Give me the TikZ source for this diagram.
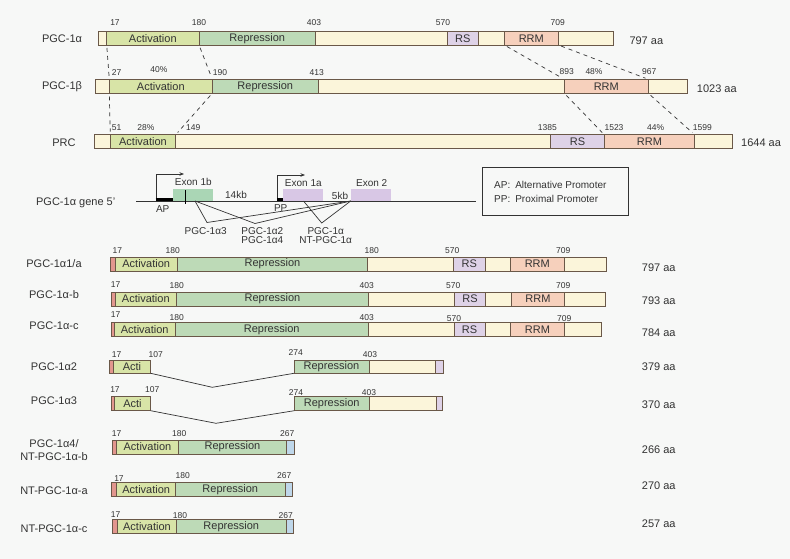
\documentclass[tikz,border=0pt]{standalone}
\usepackage{fontspec}
\setmainfont{Liberation Sans}
\usetikzlibrary{arrows.meta}
\definecolor{bgc}{HTML}{F7F8F7}
\definecolor{bd}{HTML}{6A5848}
\definecolor{ylw}{HTML}{FBF5DA}
\definecolor{act}{HTML}{D8E4A7}
\definecolor{rep}{HTML}{BDDAB7}
\definecolor{rsc}{HTML}{DED2E7}
\definecolor{rrm}{HTML}{F6D0BC}
\definecolor{redc}{HTML}{E2968E}
\definecolor{bluc}{HTML}{BFD7EA}
\definecolor{exg}{HTML}{AAD6B5}
\definecolor{exl}{HTML}{D8C7E5}
\definecolor{txt}{HTML}{333333}
\newcommand\seg[5]{\filldraw[fill=#5,draw=bd,line width=0.7pt] (#1,#3) rectangle (#2,#4);}
\tikzset{
 lbl/.style={text=txt,font=\fontsize{11}{13}\selectfont,inner sep=0pt},
 dom/.style={text=txt,font=\fontsize{11}{13}\selectfont,inner sep=0pt},
 num/.style={text=txt,font=\fontsize{8.5}{10}\selectfont,inner sep=0pt},
 sml/.style={text=txt,font=\fontsize{10}{12}\selectfont,inner sep=0pt},
 dsh/.style={draw=txt,line width=0.7pt,dash pattern=on 4pt off 4pt,shorten <=3pt,shorten >=3pt},
 spl/.style={draw=txt,line width=0.7pt},
}
\begin{document}
\begin{tikzpicture}[x=1pt,y=-1pt]
\fill[bgc] (0,0) rectangle (790,559);
\useasboundingbox (0,0) rectangle (790,559);

% ===== PGC-1alpha =====
\seg{98.3}{613.3}{31.7}{45}{ylw}
\seg{106.7}{199}{31.7}{45}{act}
\seg{199}{315.7}{31.7}{45}{rep}
\seg{447.3}{478.3}{31.7}{45}{rsc}
\seg{504.3}{558.3}{31.7}{45}{rrm}
\node[lbl] (la) at (62,39) {PGC-1α};
\node[dom] (aact) at (152.8,38.6) {Activation};
\node[dom] (arep) at (257.3,38.6) {Repression};
\node[dom] (ars) at (462.8,38.6) {RS};
\node[dom] (arrm) at (531.3,38.6) {RRM};
\node[num] (an17) at (115,23) {17};
\node[num] (an180) at (199,23) {180};
\node[num] (an403) at (314,23) {403};
\node[num] (an570) at (443,23) {570};
\node[num] (an709) at (557.7,23) {709};
\node[lbl,anchor=west] (aaa) at (629.3,41) {797 aa};

% ===== PGC-1beta =====
\seg{95.7}{687.3}{79.3}{93.3}{ylw}
\seg{109.3}{212.3}{79.3}{93.3}{act}
\seg{212.3}{318.3}{79.3}{93.3}{rep}
\seg{564.3}{648.3}{79.3}{93.3}{rrm}
\node[lbl] (lb) at (62,87) {PGC-1β};
\node[dom] (bact) at (160.8,86.6) {Activation};
\node[dom] (brep) at (265.3,86.6) {Repression};
\node[dom] (brrm) at (606.3,86.6) {RRM};
\node[num] (bn27) at (116.7,72.5) {27};
\node[num] (bp40) at (159,70) {40\%};
\node[num] (bn190) at (220,72.5) {190};
\node[num] (bn413) at (316.7,72.5) {413};
\node[num] (bn893) at (566.7,72) {893};
\node[num] (bp48) at (594,71.5) {48\%};
\node[num] (bn967) at (649.3,72) {967};
\node[lbl,anchor=west] (baa) at (696.7,89) {1023 aa};

% ===== PRC =====
\seg{94.3}{732.3}{134.7}{148.7}{ylw}
\seg{110.3}{175.7}{134.7}{148.7}{act}
\seg{550.7}{604.3}{134.7}{148.7}{rsc}
\seg{604.3}{694.7}{134.7}{148.7}{rrm}
\node[lbl] (lc) at (64,142.5) {PRC};
\node[dom] (cact) at (143,142) {Activation};
\node[dom] (crs) at (577.5,142) {RS};
\node[dom] (crrm) at (649.5,142) {RRM};
\node[num] (cn51) at (116.7,128) {51};
\node[num] (cp28) at (146,127.5) {28\%};
\node[num] (cn149) at (193.3,128) {149};
\node[num] (cn1385) at (547.3,128) {1385};
\node[num] (cn1523) at (614,128) {1523};
\node[num] (cp44) at (655.7,128) {44\%};
\node[num] (cn1599) at (702.3,128) {1599};
\node[lbl,anchor=west] (caa) at (741,142.5) {1644 aa};

% dashed homology connectors
\coordinate (a1) at (106.7,45); \coordinate (b1t) at (109.3,79.3);
\coordinate (a2) at (199,45); \coordinate (b2t) at (212.3,79.3);
\coordinate (b1b) at (109.3,93.3); \coordinate (c1) at (110.3,134.7);
\coordinate (b2b) at (212.3,93.3); \coordinate (c2) at (175.7,134.7);
\coordinate (a3) at (504.3,45); \coordinate (b3t) at (564.3,79.3);
\coordinate (a4) at (558.3,45); \coordinate (b4t) at (648.3,79.3);
\coordinate (b3b) at (564.3,93.3); \coordinate (c3) at (604.3,134.7);
\coordinate (b4b) at (648.3,93.3); \coordinate (c4) at (694.7,134.7);
\foreach \p/\q in {a1/b1t,a2/b2t,b1b/c1,b2b/c2,a3/b3t,a4/b4t,b3b/c3,b4b/c4}
  \draw[dsh] (\p) -- (\q);

% ===== gene =====
\node[lbl] (gl) at (75.7,203.3) {PGC-1α gene 5'};
\fill[exg] (173.3,188.5) rectangle (213.3,201);
\fill[exl] (282.7,189) rectangle (323.3,201);
\fill[exl] (351,189) rectangle (391,201);
\draw[txt,line width=0.7pt] (136,201) -- (476,201);
\draw[black,line width=2.4pt] (155.7,199.3) -- (172.7,199.3);
\draw[black,line width=2.4pt] (277.3,199.3) -- (282.7,199.3);
\draw[black,line width=0.7pt] (185,190) -- (185,204.3);
\draw[txt,line width=0.7pt,-{Stealth[length=4.5pt,width=3.5pt]}] (156.2,198) -- (156.2,174) -- (184,174);
\draw[txt,line width=0.7pt,-{Stealth[length=4.5pt,width=3.5pt]}] (277.8,198) -- (277.8,175) -- (305,175);
\node[sml] (e1b) at (193.3,181.5) {Exon 1b};
\node[sml] (e1a) at (303.3,183) {Exon 1a};
\node[sml] (e2) at (371.7,183) {Exon 2};
\node[sml] (k14) at (236,195) {14kb};
\node[sml] (k5) at (340,195.5) {5kb};
\node[sml] (ap) at (162.7,209.5) {AP};
\node[sml] (pp) at (280.7,208.5) {PP};
\coordinate (o1b) at (195,201);
\coordinate (o1a) at (303.5,201);
\coordinate (o2) at (350.7,201);
\coordinate (v3) at (207,222.5);
\coordinate (v2) at (255,223.5);
\coordinate (v1) at (321.7,223);
\draw[spl] (o1b) -- (v3) -- (o2);
\draw[spl] (o1b) -- (v2) -- (o2);
\draw[spl] (o1a) -- (v1) -- (o2);
\node[sml] (s3) at (205.7,231.5) {PGC-1α3};
\node[sml] (s2) at (262.3,231.5) {PGC-1α2};
\node[sml] (s4) at (262.3,240.5) {PGC-1α4};
\node[sml] (s1) at (325.7,231.5) {PGC-1α};
\node[sml] (snt) at (325.7,240.5) {NT-PGC-1α};
% legend
\draw[txt,line width=0.7pt] (482.3,167.3) rectangle (628.3,215);
\node[sml,anchor=west] (lg1) at (494,185) {AP:\hspace{5pt}Alternative Promoter};
\node[sml,anchor=west] (lg2) at (494,199) {PP:\hspace{5pt}Proximal Promoter};

% ===== isoforms =====
% alpha1/a
\seg{110}{606.7}{257.3}{271}{ylw}
\seg{110}{115}{257.3}{271}{redc}
\seg{115}{177.3}{257.3}{271}{act}
\seg{177.3}{367.7}{257.3}{271}{rep}
\seg{453.3}{485}{257.3}{271}{rsc}
\seg{510.7}{564}{257.3}{271}{rrm}
\node[lbl] (l1) at (54,264) {PGC-1α1/a};
\node[dom] at (146.2,264) (i1a) {Activation};
\node[dom] at (272.5,264) (i1r) {Repression};
\node[dom] at (469.2,264) (i1s) {RS};
\node[dom] at (537.3,264) (i1m) {RRM};
\node[num] (i1n1) at (117.3,251) {17};
\node[num] (i1n2) at (172.7,251) {180};
\node[num] (i1n3) at (371.7,251) {180};
\node[num] (i1n4) at (452.3,251) {570};
\node[num] (i1n5) at (563.3,251) {709};
\node[lbl,anchor=west] (i1aa) at (641.7,267.3) {797 aa};

% alpha-b
\seg{111}{605}{292.3}{306}{ylw}
\seg{111}{115}{292.3}{306}{redc}
\seg{115}{176.7}{292.3}{306}{act}
\seg{176.7}{368.3}{292.3}{306}{rep}
\seg{454.3}{485.7}{292.3}{306}{rsc}
\seg{511.7}{564.3}{292.3}{306}{rrm}
\node[lbl] (l2) at (54,295) {PGC-1α-b};
\node[dom] at (145.8,299) (i2a) {Activation};
\node[dom] at (272.5,299) (i2r) {Repression};
\node[dom] at (470,299) (i2s) {RS};
\node[dom] at (538,299) (i2m) {RRM};
\node[num] (i2n1) at (115.7,285) {17};
\node[num] (i2n2) at (176.7,286) {180};
\node[num] (i2n3) at (366.7,286) {403};
\node[num] (i2n4) at (453.3,286) {570};
\node[num] (i2n5) at (563.3,286) {709};
\node[lbl,anchor=west] (i2aa) at (641.7,301) {793 aa};

% alpha-c
\seg{111}{601.7}{322.3}{336.7}{ylw}
\seg{111}{114.3}{322.3}{336.7}{redc}
\seg{114.3}{175}{322.3}{336.7}{act}
\seg{175}{368.3}{322.3}{336.7}{rep}
\seg{454}{485}{322.3}{336.7}{rsc}
\seg{510.7}{564.3}{322.3}{336.7}{rrm}
\node[lbl] (l3) at (54,326) {PGC-1α-c};
\node[dom] at (144.7,329.5) (i3a) {Activation};
\node[dom] at (271.7,329.5) (i3r) {Repression};
\node[dom] at (469.5,329.5) (i3s) {RS};
\node[dom] at (537.5,329.5) (i3m) {RRM};
\node[num] (i3n1) at (115.7,314.3) {17};
\node[num] (i3n2) at (176.7,317.7) {180};
\node[num] (i3n3) at (366.7,317.7) {403};
\node[num] (i3n4) at (454,318.3) {570};
\node[num] (i3n5) at (564.3,318.3) {709};
\node[lbl,anchor=west] (i3aa) at (641.7,332.3) {784 aa};

% alpha2
\seg{109.3}{150.7}{360}{373.3}{act}
\seg{109.3}{113.3}{360}{373.3}{redc}
\seg{294}{435.7}{360}{373.3}{ylw}
\seg{294}{369}{360}{373.3}{rep}
\seg{435.7}{443.3}{360}{373.3}{rsc}
\node[lbl] (l4) at (54,366.7) {PGC-1α2};
\node[dom] at (132,366.7) (i4a) {Acti};
\node[dom] at (331.5,366.7) (i4r) {Repression};
\node[num] (i4n1) at (116.7,355) {17};
\node[num] (i4n2) at (155.7,355) {107};
\node[num] (i4n3) at (295.7,352.7) {274};
\node[num] (i4n4) at (370,355) {403};
\node[lbl,anchor=west] (i4aa) at (641.7,366.7) {379 aa};
\coordinate (i4p) at (150.7,373.3);
\coordinate (i4v) at (212.3,387.3);
\coordinate (i4q) at (294,373.3);
\draw[spl] (i4p) -- (i4v) -- (i4q);

% alpha3
\seg{111}{150.7}{396.7}{410.7}{act}
\seg{111}{114.3}{396.7}{410.7}{redc}
\seg{294.3}{436.7}{396.7}{410.7}{ylw}
\seg{294.3}{369}{396.7}{410.7}{rep}
\seg{436.7}{442.3}{396.7}{410.7}{rsc}
\node[lbl] (l5) at (54,400.7) {PGC-1α3};
\node[dom] at (132.5,404) (i5a) {Acti};
\node[dom] at (331.7,404) (i5r) {Repression};
\node[num] (i5n1) at (115,389.3) {17};
\node[num] (i5n2) at (152.3,389.3) {107};
\node[num] (i5n3) at (296,392.3) {274};
\node[num] (i5n4) at (369,392.3) {403};
\node[lbl,anchor=west] (i5aa) at (641.7,404.3) {370 aa};
\coordinate (i5p) at (150.7,410.7);
\coordinate (i5v) at (216,423.3);
\coordinate (i5q) at (294.3,410.7);
\draw[spl] (i5p) -- (i5v) -- (i5q);

% alpha4 / NT-b
\seg{112.3}{294}{440}{454}{bluc}
\seg{112.3}{116.7}{440}{454}{redc}
\seg{116.7}{178.3}{440}{454}{act}
\seg{178.3}{286.7}{440}{454}{rep}
\node[lbl,align=center] (l6) at (54,450) {PGC-1α4/\\NT-PGC-1α-b};
\node[dom] at (147.5,447) (i6a) {Activation};
\node[dom] at (232.5,447) (i6r) {Repression};
\node[num] (i6n1) at (116.7,434) {17};
\node[num] (i6n2) at (179.3,434) {180};
\node[num] (i6n3) at (287.3,434) {267};
\node[lbl,anchor=west] (i6aa) at (641.7,450) {266 aa};

% NT-a
\seg{111.7}{292.3}{482.3}{496.7}{bluc}
\seg{111.7}{116.7}{482.3}{496.7}{redc}
\seg{116.7}{175.7}{482.3}{496.7}{act}
\seg{175.7}{285}{482.3}{496.7}{rep}
\node[lbl] (l7) at (54,491) {NT-PGC-1α-a};
\node[dom] at (146.2,489.5) (i7a) {Activation};
\node[dom] at (230.3,489.5) (i7r) {Repression};
\node[num] (i7n1) at (119,478.8) {17};
\node[num] (i7n2) at (182.7,476) {180};
\node[num] (i7n3) at (284.3,476) {267};
\node[lbl,anchor=west] (i7aa) at (641.7,486) {270 aa};

% NT-c
\seg{112.3}{293.3}{519.3}{533.3}{bluc}
\seg{112.3}{117.3}{519.3}{533.3}{redc}
\seg{117.3}{176.7}{519.3}{533.3}{act}
\seg{176.7}{286}{519.3}{533.3}{rep}
\node[lbl] (l8) at (54,528.3) {NT-PGC-1α-c};
\node[dom] at (147,526.3) (i8a) {Activation};
\node[dom] at (231.3,526.3) (i8r) {Repression};
\node[num] (i8n1) at (115.7,515) {17};
\node[num] (i8n2) at (180,516) {180};
\node[num] (i8n3) at (285.7,516) {267};
\node[lbl,anchor=west] (i8aa) at (641.7,523.3) {257 aa};
\end{tikzpicture}
\end{document}
